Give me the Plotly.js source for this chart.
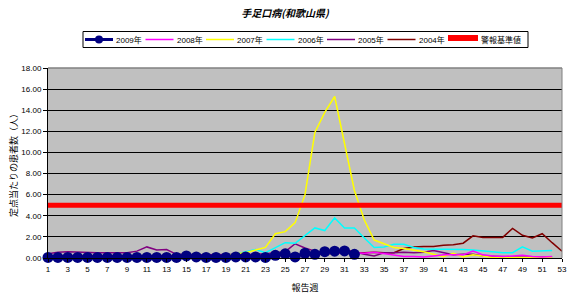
<!DOCTYPE html>
<html>
<head>
<meta charset="utf-8">
<script src="https://cdn.plot.ly/plotly-3.0.1.min.js"></script>
<style>html,body{margin:0;padding:0;background:#fff;}#chart{width:570px;height:296px;}</style>
</head>
<body>
<div id="chart"></div>
<script>
const weeks = [1,2,3,4,5,6,7,8,9,10,11,12,13,14,15,16,17,18,19,20,21,22,23,24,25,26,27,28,29,30,31,32,33,34,35,36,37,38,39,40,41,42,43,44,45,46,47,48,49,50,51,52,53];
const xTickLabels = ['1','3','5','7','9','11','13','15','17','19','21','23','25','27','29','31','33','35','37','39','41','43','45','47','49','51','53'];
const seriesNames = ['2009年','2008年','2007年','2006年','2005年','2004年','警報基準値'];

const y2009 = [0.05,0.05,0.05,0.05,0.05,0.05,0.05,0.05,0.05,0.05,0.05,0.05,0.05,0.05,0.2,0.1,0.05,0.05,0.05,0.1,0.1,0.1,0.05,0.25,0.4,0.1,0.45,0.35,0.6,0.65,0.67,0.35];
const y2008 = [0.15,0.15,0.1,0.1,0.1,0.1,0.1,0.1,0.1,0.1,0.1,0.1,0.1,0.1,0.1,0.1,0.1,0.1,0.1,0.15,0.15,0.2,0.2,0.25,0.3,0.3,0.35,0.4,0.45,0.45,0.5,0.5,0.45,0.55,0.4,0.25,0.15,0.15,0.1,0.2,0.3,0.3,0.3,0.65,0.3,0.2,0.15,0.2,0.25,0.15,0.1,0.15];
const y2007 = [0.05,0.05,0.05,0.05,0.05,0.05,0.05,0.05,0.05,0.05,0.05,0.05,0.05,0.05,0.05,0.1,0.1,0.15,0.2,0.4,0.5,0.75,1.0,2.3,2.5,3.35,6.0,11.9,13.8,15.3,11.0,6.4,3.6,1.7,1.35,1.0,0.9,0.75,0.6,0.35,0.12,0.45,0.1,0.3,0.15,0.05,0.05,0.05,0.05,0.05,0.05,0.05];
const y2006 = [0.1,0.1,0.1,0.1,0.1,0.1,0.1,0.1,0.1,0.1,0.1,0.1,0.1,0.1,0.1,0.15,0.15,0.15,0.2,0.35,0.6,0.8,0.5,1.0,1.45,1.4,2.15,2.85,2.6,3.8,2.85,2.85,1.9,1.0,1.05,1.3,1.3,1.0,0.85,0.85,0.8,0.85,0.8,0.75,0.65,0.55,0.5,0.5,1.05,0.65,0.65,0.7];
const y2005 = [0.4,0.55,0.6,0.55,0.5,0.5,0.5,0.5,0.5,0.65,1.05,0.75,0.8,0.35,0.3,0.3,0.3,0.3,0.3,0.3,0.3,0.35,0.4,0.5,0.6,1.35,0.95,0.65,0.5,0.4,0.8,0.55,0.35,0.2,0.5,0.5,0.55,0.5,0.55,0.7,0.5,0.3,0.35,0.35,0.2,0.15,0.15,0.1,0.1,0.1,0.1,0.1];
const y2004 = [0.2,0.2,0.2,0.2,0.2,0.2,0.2,0.2,0.2,0.2,0.2,0.2,0.2,0.2,0.2,0.2,0.2,0.2,0.2,0.2,0.2,0.2,0.2,0.25,0.3,0.3,0.3,0.35,0.4,0.45,0.5,0.5,0.5,0.55,0.5,0.5,0.9,1.05,1.1,1.1,1.2,1.25,1.4,2.1,1.95,1.95,1.95,2.8,2.15,1.9,2.3,1.45,0.65];
const alertLevel = [5,5];
const alertWeeks = [1,53];

const FONT = 'Liberation Sans, Arial, "Noto Sans CJK JP", sans-serif';
const JP = '"Noto Sans CJK JP", sans-serif';
const colors = ['#000080','#FF00FF','#FFFF00','#00FFFF','#800080','#800000','#FF0000'];

function lineTrace(idx, ys) {
  return {
    type: 'scatter', mode: 'lines', name: seriesNames[idx],
    x: weeks.slice(0, ys.length), y: ys,
    line: {color: colors[idx], width: 1.5}
  };
}

const traces = [
  lineTrace(5, y2004),
  lineTrace(4, y2005),
  lineTrace(3, y2006),
  lineTrace(2, y2007),
  lineTrace(1, y2008),
  {
    type: 'scatter', mode: 'lines+markers', name: seriesNames[0],
    x: weeks.slice(0, y2009.length), y: y2009,
    line: {color: colors[0], width: 3},
    marker: {color: colors[0], size: 11, symbol: 'circle'},
    cliponaxis: false
  },
  {
    type: 'scatter', mode: 'lines', name: seriesNames[6],
    x: alertWeeks, y: alertLevel,
    line: {color: colors[6], width: 5}
  }
];

const tickVals = xTickLabels.map(Number);

// plot-area geometry (pixels) -> paper coordinates for the hand-built legend
const M = {l: 48, r: 8, t: 68, b: 38};
const PW = 570 - M.l - M.r, PH = 296 - M.t - M.b;
const px = v => (v - M.l) / PW;
const py = v => (296 - M.b - v) / PH;

const shapes = [
  {type: 'line', xref: 'paper', yref: 'paper', x0: 0, x1: 1, y0: 1, y1: 1, line: {color: '#808080', width: 1.5}},
  {type: 'line', xref: 'paper', yref: 'paper', x0: 1, x1: 1, y0: 0, y1: 1, line: {color: '#808080', width: 1}},
  {type: 'rect', xref: 'paper', yref: 'paper', x0: px(83), x1: px(528), y0: py(31.5), y1: py(47.5),
   line: {color: '#000', width: 1}, fillcolor: '#FFFFFF', layer: 'above'}
];
const annotations = [];
const legY = 39.5;
seriesNames.forEach((name, i) => {
  const sx = 85 + i * 60.5;
  const sw = i === 6 ? 30 : 28;
  const isAlert = i === 6;
  shapes.push({type: 'line', xref: 'paper', yref: 'paper', x0: px(sx), x1: px(sx + sw),
    y0: py(isAlert ? 38 : legY), y1: py(isAlert ? 38 : legY),
    line: {color: colors[i], width: isAlert ? 6 : (i === 0 ? 3 : 1.5)}, layer: 'above'});
  if (i === 0) {
    shapes.push({type: 'circle', xref: 'paper', yref: 'paper',
      x0: px(sx + sw / 2 - 4), x1: px(sx + sw / 2 + 4), y0: py(legY + 4), y1: py(legY - 4),
      line: {color: colors[0], width: 0}, fillcolor: colors[0], layer: 'above'});
  }
  annotations.push({xref: 'paper', yref: 'paper', x: px(sx + sw + 1), y: py(legY + 0.5),
    xanchor: 'left', yanchor: 'middle', showarrow: false, text: name,
    font: {family: FONT, size: 8, color: '#000'}});
});

const layout = {
  width: 570, height: 296,
  margin: M,
  paper_bgcolor: '#FFFFFF',
  plot_bgcolor: '#C0C0C0',
  font: {family: FONT, size: 8, color: '#000'},
  title: {
    text: '<b><i>手足口病(和歌山県)</i></b>',
    x: 0.5, xanchor: 'center', y: 1 - 13 / 296, yanchor: 'middle',
    font: {family: JP, size: 10, color: '#000'}
  },
  showlegend: false,
  xaxis: {
    range: [1, 53], type: 'linear',
    tickmode: 'array', tickvals: tickVals, ticktext: xTickLabels,
    ticks: 'outside', ticklen: 3, tickcolor: '#000',
    showline: true, linecolor: '#000', linewidth: 1,
    showgrid: false, zeroline: false,
    tickfont: {family: FONT, size: 8},
    title: {text: '報告週', font: {family: JP, size: 9}, standoff: 12}
  },
  yaxis: {
    range: [0, 18], dtick: 2, tick0: 0, tickformat: '.2f',
    ticks: 'outside', ticklen: 4, tickcolor: '#000',
    showline: true, linecolor: '#000', linewidth: 1,
    showgrid: true, gridcolor: '#000', gridwidth: 1,
    zeroline: false,
    tickfont: {family: FONT, size: 8},
    title: {text: '定点当たりの患者数（人）', font: {family: JP, size: 9}, standoff: 2}
  },
  shapes: shapes,
  annotations: annotations
};

Plotly.newPlot('chart', traces, layout, {displayModeBar: false, staticPlot: true});
</script>
</body>
</html>
